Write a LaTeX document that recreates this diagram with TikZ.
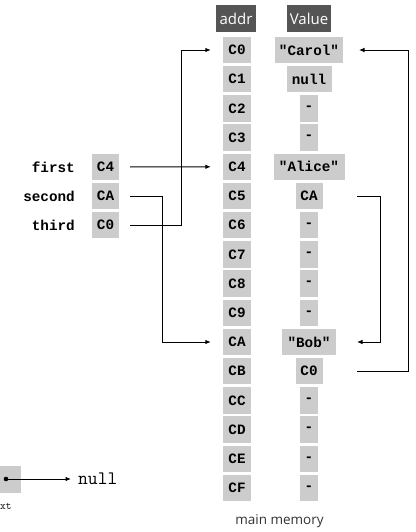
\documentclass[tikz,border=0pt]{standalone}
\usepackage{fontspec}
\setmainfont{Open Sans}
\newfontfamily\cellmono{Liberation Mono}
\usetikzlibrary{arrows.meta}
\definecolor{cellgray}{HTML}{CCCCCC}
\definecolor{hdrgray}{HTML}{555555}
\begin{document}
\begin{tikzpicture}[x=1pt,y=-1pt,
  cell/.style={fill=cellgray, minimum height=26.5pt, inner sep=0pt,
    font=\cellmono\bfseries\fontsize{14.3}{16}\selectfont, text=black},
  hdr/.style={fill=hdrgray, minimum height=27pt, inner sep=0pt, text=white,
    font=\fontsize{15}{17}\selectfont},
  lbl/.style={inner sep=0pt, font=\cellmono\bfseries\fontsize{14.3}{16}\selectfont},
  link/.style={draw=black, line width=0.9pt},
  arr/.style={link, -{Latex[length=5.5pt,width=4.5pt]}},
]
\useasboundingbox (0,0) rectangle (415,532);
% headers
\node[hdr, minimum width=40pt] (haddr) at (236,18.5) {addr};
\node[hdr, minimum width=44pt] (hval) at (309,18.5) {Value};
% address column
\foreach \a [count=\i from 0] in {C0,C1,C2,C3,C4,C5,C6,C7,C8,C9,CA,CB,CC,CD,CE,CF}
  \node[cell, minimum width=28pt] (a\i) at (237,50+\i*29.2) {\a};
% value column
\foreach \v/\w [count=\i from 0] in {"Carol"/68,null/45,-/18,-/18,"Alice"/71,CA/27,-/18,-/18,-/18,-/18,"Bob"/54,C0/27,-/18,-/18,-/18,-/18}
  \node[cell, minimum width=\w pt] (v\i) at (309,50+\i*29.2) {\v};
% variables
\node[cell, minimum width=27pt] (pf) at (105.5,166.8) {C4};
\node[cell, minimum width=27pt] (ps) at (105.5,196.0) {CA};
\node[cell, minimum width=27pt] (pt) at (105.5,225.2) {C0};
\node[lbl, anchor=east] (lf) at (75,166.8) {first};
\node[lbl, anchor=east] (ls) at (75,196.0) {second};
\node[lbl, anchor=east] (lt) at (75,225.2) {third};
% connectors from variables
\draw[arr] ([xshift=11pt]pf.east) -- ([xshift=-12pt]a4.west);
\draw[arr] ([xshift=11pt]ps.east) -- ++(32,0) |- ([xshift=-12pt]a10.west);
\draw[arr] ([xshift=11pt]pt.east) -- ++(51,0) |- ([xshift=-12pt]a0.west);
% links inside memory
\coordinate (vr) at (357,0);
\draw[arr] (v5 -| vr) -- ++(23,0) |- (v10 -| vr);
\draw[arr] (v11 -| vr) -- ++(51,0) |- ([xshift=2pt]v0 -| vr);
% main memory label
\node[inner sep=0pt, font=\fontsize{13.5}{15}\selectfont, text=black!80] (mm) at (279.5,521) {main memory};
% partial node at bottom left
\node[fill=cellgray, minimum width=21pt, minimum height=27pt, inner sep=0pt] (nx) at (10.5,479) {};
\fill (6,479) circle (2.3pt) coordinate (dot);
\node[inner sep=0pt, anchor=west, font=\ttfamily\fontsize{19}{20}\selectfont] (nul) at (78,479) {null};
\draw[arr] (dot) -- ([xshift=-7pt]nul.west);
\node[inner sep=0pt, anchor=west, font=\ttfamily\fontsize{11}{12}\selectfont] (nxl) at (0,506) {xt};
\end{tikzpicture}
\end{document}
